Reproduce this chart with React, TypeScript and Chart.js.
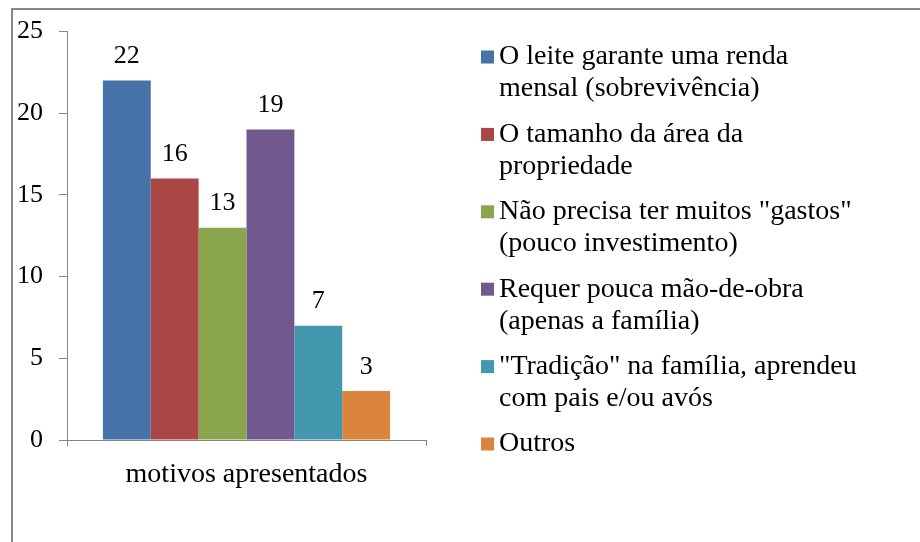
import React, { useEffect, useRef } from "react";
import { Chart, registerables } from "chart.js";

Chart.register(...registerables);

const categories = ["motivos apresentados"];
const seriesNames = [
  "O leite garante uma renda mensal (sobrevivência)",
  "O tamanho da área da propriedade",
  "Não precisa ter muitos \"gastos\" (pouco investimento)",
  "Requer pouca mão-de-obra (apenas a família)",
  "\"Tradição\" na família, aprendeu com pais e/ou avós",
  "Outros",
];
const legendLines = [
  ["O leite garante uma renda", "mensal (sobrevivência)"],
  ["O tamanho da área da", "propriedade"],
  ["Não precisa ter muitos \"gastos\"", "(pouco investimento)"],
  ["Requer pouca mão-de-obra", "(apenas a família)"],
  ["\"Tradição\" na família, aprendeu", "com pais e/ou avós"],
  ["Outros"],
];
const values = [22, 16, 13, 19, 7, 3];
const colors = ["#4572A7", "#AA4643", "#89A54E", "#71588F", "#4198AF", "#DB843D"];
const yTicks = { min: 0, max: 25, step: 5 };

const FONT = "'Liberation Serif', 'DejaVu Serif', serif";
const FS_NUM = 26;
const FS_TEXT = 28;

export default function App() {
  const ref = useRef<HTMLCanvasElement | null>(null);

  useEffect(() => {
    if (!ref.current) return;
    let chart: any = null;
    let cancelled = false;

    const framePlugin = {
      id: "frame",
      beforeDraw(c: any) {
        const ctx = c.ctx;
        ctx.save();
        ctx.fillStyle = "#ffffff";
        ctx.fillRect(0, 0, c.width, c.height);
        ctx.strokeStyle = "#868686";
        ctx.lineWidth = 2;
        ctx.strokeRect(12, 9, 2000, 2000);
        ctx.restore();
      },
    };

    const valueLabels = {
      id: "valueLabels",
      afterDatasetsDraw(c: any) {
        const ctx = c.ctx;
        ctx.save();
        ctx.font = `${FS_NUM}px ${FONT}`;
        ctx.fillStyle = "#000";
        ctx.textAlign = "center";
        ctx.textBaseline = "middle";
        c.data.datasets.forEach((ds: any, i: number) => {
          const meta = c.getDatasetMeta(i);
          meta.data.forEach((el: any, j: number) => {
            ctx.fillText(String(ds.data[j]), el.x, el.y - 24);
          });
        });
        ctx.restore();
      },
    };

    const sideLegend = {
      id: "sideLegend",
      afterDraw(c: any) {
        const ctx = c.ctx;
        ctx.save();
        ctx.font = `${FS_TEXT}px ${FONT}`;
        ctx.textBaseline = "middle";
        ctx.textAlign = "left";
        const x0 = 481;
        const lineH = 32;
        let y = 57;
        c.data.datasets.forEach((ds: any, i: number) => {
          ctx.fillStyle = ds.backgroundColor;
          ctx.fillRect(x0, y - 6.5, 13, 13);
          ctx.fillStyle = "#000";
          legendLines[i].forEach((ln, k) => {
            ctx.fillText(ln, x0 + 18, y + k * lineH);
          });
          y += 77.4;
        });
        ctx.restore();
      },
    };

    const build = () => {
      if (cancelled || !ref.current) return;
      chart = new Chart(ref.current, {
        type: "bar",
        data: {
          labels: categories,
          datasets: seriesNames.map((name, i) => ({
            label: name,
            data: [values[i]],
            backgroundColor: colors[i],
            borderWidth: 0,
            categoryPercentage: 0.8,
            barPercentage: 1.0,
          })),
        },
        options: {
          responsive: false,
          animation: false,
          devicePixelRatio: 1,
          layout: { padding: { left: 0, top: 30, right: 494, bottom: 0 } },
          plugins: {
            legend: { display: false },
            tooltip: { enabled: false },
          },
          scales: {
            x: {
              offset: true,
              grid: {
                drawOnChartArea: false,
                drawTicks: true,
                tickLength: 6,
                color: "#868686",
                offset: true,
              },
              border: { display: true, color: "#868686", width: 1 },
              ticks: {
                color: "#000",
                font: { family: FONT, size: FS_TEXT },
                padding: 12,
                maxRotation: 0,
              },
              afterFit(scale: any) {
                scale.height = 102;
              },
            },
            y: {
              min: yTicks.min,
              max: yTicks.max,
              grid: {
                drawOnChartArea: false,
                drawTicks: true,
                tickLength: 8,
                color: "#868686",
              },
              border: { display: true, color: "#868686", width: 1 },
              ticks: {
                stepSize: yTicks.step,
                color: "#000",
                font: { family: FONT, size: FS_NUM },
                padding: 16,
              },
              afterFit(scale: any) {
                scale.width = 67;
              },
            },
          },
        },
        plugins: [framePlugin, valueLabels, sideLegend],
      });
    };

    const fonts: any = (document as any).fonts;
    if (fonts && fonts.load) {
      Promise.all([fonts.load(`${FS_TEXT}px 'Liberation Serif'`)])
        .catch(() => null)
        .then(() => build());
    } else {
      build();
    }

    return () => {
      cancelled = true;
      if (chart) chart.destroy();
    };
  }, []);

  return (
    <div style={{ position: "absolute", left: 0, top: 0, width: 920, height: 542 }}>
      <canvas ref={ref} width={920} height={542} style={{ display: "block" }} />
    </div>
  );
}
